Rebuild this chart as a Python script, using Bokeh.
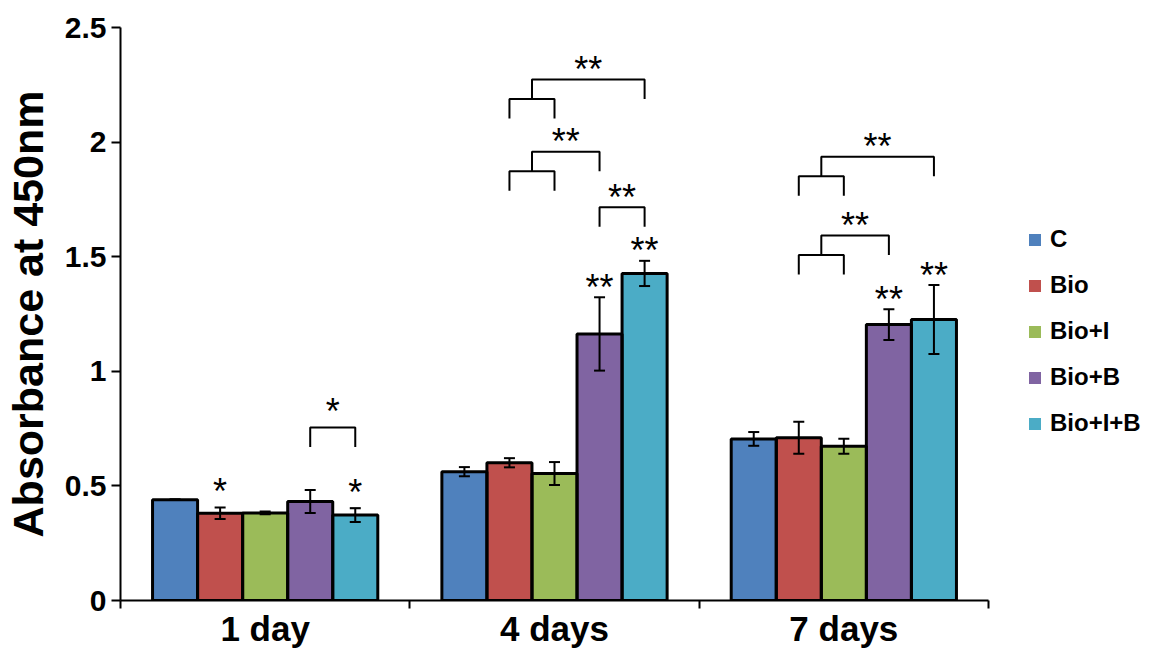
from bokeh.plotting import figure
from bokeh.models import (ColumnDataSource, Range1d, FixedTicker, CustomJSTickFormatter,
                          Whisker, TeeHead, Legend, LegendItem)
from bokeh.core.properties import value
from bokeh.embed import file_html
from bokeh.resources import INLINE

# ---------------- data ----------------
days = ["1 day", "4 days", "7 days"]
groups = ["C", "Bio", "Bio+I", "Bio+B", "Bio+I+B"]
colors = ["#4F81BD", "#C0504D", "#9BBB59", "#8064A2", "#4BACC6"]

mean_C = [0.44, 0.562, 0.705]
mean_Bio = [0.381, 0.601, 0.71]
mean_Bio_I = [0.382, 0.554, 0.673]
mean_Bio_B = [0.432, 1.163, 1.204]
mean_Bio_I_B = [0.373, 1.427, 1.226]

err_C = [0.002, 0.02, 0.03]
err_Bio = [0.025, 0.02, 0.07]
err_Bio_I = [0.006, 0.05, 0.033]
err_Bio_B = [0.05, 0.16, 0.067]
err_Bio_I_B = [0.03, 0.055, 0.15]

# significance marks above single bars
sig_C = ["", "", ""]
sig_Bio = ["*", "", ""]
sig_Bio_I = ["", "", ""]
sig_Bio_B = ["", "**", "**"]
sig_Bio_I_B = ["*", "**", "**"]

# comparison brackets
bracket_day = [0, 1, 1, 1, 2, 2]
bracket_left = [["Bio+B"], ["Bio", "Bio+I"], ["Bio", "Bio+I"], ["Bio+B"],
                ["Bio", "Bio+I"], ["Bio", "Bio+I"]]
bracket_right = ["Bio+I+B", "Bio+I+B", "Bio+B", "Bio+I+B", "Bio+I+B", "Bio+B"]
bracket_top = [0.755, 2.273, 1.958, 1.716, 1.936, 1.592]
bracket_label = ["*", "**", "**", "**", "**", "**"]

y_ticks = [0, 0.5, 1, 1.5, 2, 2.5]

# ---------------- layout helpers ----------------
means = [mean_C, mean_Bio, mean_Bio_I, mean_Bio_B, mean_Bio_I_B]
errs = [err_C, err_Bio, err_Bio_I, err_Bio_B, err_Bio_I_B]
sigs = [sig_C, sig_Bio, sig_Bio_I, sig_Bio_B, sig_Bio_I_B]
BW = 0.1557
LEG = 0.085
FONT = "Liberation Sans"
STAR_FS = 36


def bar_x(day_i, grp):
    j = groups.index(grp)
    return day_i + 0.5 + (j - 2) * BW


p = figure(frame_width=868, frame_height=573,
           x_range=Range1d(0, 3), y_range=Range1d(0, 2.5),
           output_backend="svg", toolbar_location=None,
           min_border_left=119, min_border_top=27, min_border_right=156,
           min_border_bottom=10)
p.xgrid.visible = False
p.ygrid.visible = False
p.outline_line_color = None
p.background_fill_color = "white"

# bar fills, one renderer per group (used for the legend squares)
items = []
bx, btop, bup, blo = [], [], [], []
for j, g in enumerate(groups):
    gx = [bar_x(i, g) for i in range(len(days))]
    r = p.vbar(x=gx, top=means[j], width=BW, bottom=0,
               fill_color=colors[j], line_color=None)
    items.append(LegendItem(label=g, renderers=[r]))
    for i in range(len(days)):
        bx.append(gx[i])
        btop.append(means[j][i])
        bup.append(means[j][i] + errs[j][i])
        blo.append(means[j][i] - errs[j][i])

# black outlines on top
src = ColumnDataSource(dict(x=bx, top=btop, upper=bup, lower=blo))
p.vbar(x="x", top="top", width=BW, bottom=0, fill_color=None,
       line_color="black", line_width=3, source=src)

wh = Whisker(base="x", upper="upper", lower="lower", source=src, dimension="height",
             line_color="black", line_width=2, level="annotation",
             upper_head=TeeHead(size=11, line_width=2, line_color="black"),
             lower_head=TeeHead(size=11, line_width=2, line_color="black"))
p.add_layout(wh)


def star_offset(lbl):
    gap = 21 if lbl == "*" else 15
    return -gap + 5


# stars over bars
sx, sy, st, so = [], [], [], []
for j, g in enumerate(groups):
    for i in range(len(days)):
        lbl = sigs[j][i]
        if lbl:
            sx.append(bar_x(i, g))
            sy.append(means[j][i] + errs[j][i])
            st.append(lbl)
            so.append(star_offset(lbl))

# brackets
xs, ys = [], []
for d, lefts, right, top, lbl in zip(bracket_day, bracket_left, bracket_right,
                                    bracket_top, bracket_label):
    xr = bar_x(d, right)
    if len(lefts) == 1:
        xl = bar_x(d, lefts[0])
        xs.append([xl, xl, xr, xr])
        ys.append([top - LEG, top, top, top - LEG])
    else:
        xa, xb = bar_x(d, lefts[0]), bar_x(d, lefts[1])
        xl = (xa + xb) / 2
        low = top - LEG
        xs.append([xa, xa, xb, xb])
        ys.append([low - LEG, low, low, low - LEG])
        xs.append([xl, xl, xr, xr])
        ys.append([low, top, top, top - LEG])
    sx.append((xl + xr) / 2)
    sy.append(top)
    st.append(lbl)
    so.append(star_offset(lbl))

p.multi_line(xs=xs, ys=ys, line_color="black", line_width=2)
p.text(x="x", y="y", text="t", y_offset="o",
       source=ColumnDataSource(dict(x=sx, y=sy, t=st, o=so)),
       text_font=value(FONT), text_font_size=f"{STAR_FS}px", text_color="black",
       text_align="center", text_baseline="alphabetic")

legend = Legend(items=items, location=(39, 163), orientation="vertical",
                border_line_color=None, background_fill_alpha=0, padding=0, margin=0,
                spacing=18, glyph_width=15, glyph_height=15, label_standoff=8,
                label_height=28, label_text_font=FONT, label_text_font_style="bold",
                label_text_font_size="24px", label_text_color="black")
p.add_layout(legend, "right")

# axes
p.yaxis.ticker = FixedTicker(ticks=y_ticks)
p.yaxis.formatter = CustomJSTickFormatter(code="return tick.toString()")
p.yaxis.major_tick_out = 9
p.yaxis.major_tick_in = 0
p.yaxis.minor_tick_line_color = None
p.yaxis.axis_line_width = 2
p.yaxis.major_tick_line_width = 2
p.yaxis.major_label_text_font = FONT
p.yaxis.major_label_text_font_style = "bold"
p.yaxis.major_label_text_font_size = "30px"
p.yaxis.major_label_text_color = "black"
p.yaxis.major_label_standoff = 5
p.yaxis.axis_label = "Absorbance at 450nm"
p.yaxis.axis_label_text_font = FONT
p.yaxis.axis_label_text_font_style = "bold"
p.yaxis.axis_label_text_font_size = "43px"
p.yaxis.axis_label_text_color = "black"
p.yaxis.axis_label_standoff = 10

p.xaxis.ticker = FixedTicker(ticks=[0.5, 1.5, 2.5], minor_ticks=[0, 1, 2, 3])
p.xaxis.formatter = CustomJSTickFormatter(args=dict(labels=days),
                                          code="return labels[Math.floor(tick)]")
p.xaxis.major_tick_line_color = None
p.xaxis.minor_tick_out = 8
p.xaxis.minor_tick_in = 0
p.xaxis.minor_tick_line_width = 2
p.xaxis.axis_line_width = 2
p.xaxis.major_label_text_font = FONT
p.xaxis.major_label_text_font_style = "bold"
p.xaxis.major_label_text_font_size = "35px"
p.xaxis.major_label_text_color = "black"
p.xaxis.major_label_standoff = 0

open("out.html", "w").write(file_html(p, INLINE))
